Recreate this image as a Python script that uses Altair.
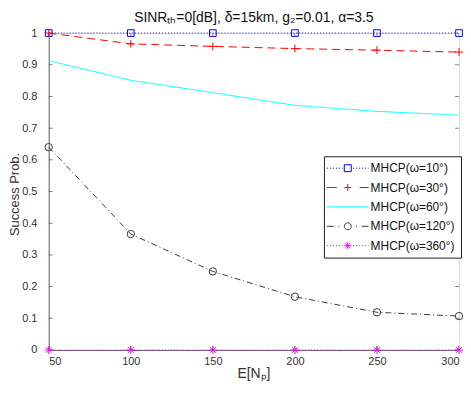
import altair as alt
import pandas as pd

# ---------------- data ----------------
x_vals = [50, 100, 150, 200, 250, 300]
series_names = ["MHCP(ω=10°)", "MHCP(ω=30°)", "MHCP(ω=60°)", "MHCP(ω=120°)", "MHCP(ω=360°)"]
w10 = [1.0, 1.0, 1.0, 1.0, 1.0, 1.0]
w30 = [1.0, 0.966, 0.958, 0.951, 0.946, 0.940]
w60 = [0.913, 0.851, 0.812, 0.772, 0.753, 0.741]
w120 = [0.640, 0.366, 0.248, 0.168, 0.119, 0.107]
w360 = [0.0, 0.0, 0.0, 0.0, 0.0, 0.0]
all_series = [w10, w30, w60, w120, w360]

x_ticks = [50, 100, 150, 200, 250, 300]
y_ticks = [0, 0.1, 0.2, 0.3, 0.4, 0.5, 0.6, 0.7, 0.8, 0.9, 1]

rows = []
for name, ys in zip(series_names, all_series):
    for xv, yv in zip(x_vals, ys):
        rows.append({"series": name, "x": xv, "y": yv})
df = pd.DataFrame(rows)

# ---------------- styles ----------------
colors = ["#0000ff", "#ff0000", "#00ffff", "#3a3a3a", "#ff00ff"]
dashes = [[1, 2], [8, 5], [1, 0], [6, 3, 1, 3], [1, 2]]

PLUS = "M-1,0H1M0,-1V1"
STAR = "M-1,0H1M0,-1V1M-0.7,-0.7L0.7,0.7M-0.7,0.7L0.7,-0.7"
marker_specs = [
    (series_names[0], "square", 45),
    (series_names[1], PLUS, 64),
    (series_names[3], "circle", 55),
    (series_names[4], STAR, 64),
]


def dotted(a, b, on=0.25, off=0.5):
    out, p = [], a
    while p < b:
        q = min(p + on, b)
        out.append(f"M{p:.3f},0H{q:.3f}")
        p = q + off
    return "".join(out)


m = 0.875
sq = f"M{-m},{-m}H{m}V{m}H{-m}Z"
pl = f"M{-m},0H{m}M0,{-m}V{m}"
ci = f"M{m},0A{m},{m} 0 1,1 {-m},0A{m},{m} 0 1,1 {m},0Z"
k = 0.62
st = pl + f"M{-k},{-k}L{k},{k}M{-k},{k}L{k},{-k}"
legend_paths = [
    dotted(-5.2, -1.3) + sq + dotted(1.3, 5.2),
    "M-5.25,0H-2.75" + pl + "M3,0H5.25",
    "M-5.25,0H5.25",
    "M-5.25,0H-3.5M-2.35,0H-2.1" + ci + "M2.1,0H2.35M3.5,0H5.25",
    dotted(-5.2, -1.3) + st + dotted(1.3, 5.2),
]

FONT = "Liberation Sans"
W, H = 413, 319

xscale = alt.Scale(domain=[50, 300], nice=False, zero=False)
yscale = alt.Scale(domain=[0, 1], nice=False)
cscale = alt.Scale(domain=series_names, range=colors)

xaxis = alt.Axis(values=x_ticks, title="E[Nₚ]", grid=False, tickSize=0,
                 labelPadding=6, labelFontSize=11, labelFont=FONT,
                 labelColor="#333333", domainColor="#666666",
                 titleFont=FONT, titleFontSize=14, titleFontWeight="normal",
                 titleColor="#333333", titleX=206, titleY=24,
                 titleBaseline="middle", titleAlign="center")
yaxis = alt.Axis(values=y_ticks, title="Success Prob.", grid=False, tickSize=0,
                 labelPadding=12, labelFontSize=11, labelFont=FONT,
                 labelColor="#333333", domainColor="#666666",
                 labelExpr="format(datum.value, '.1~f')",
                 titleFont=FONT, titleFontSize=13, titleFontWeight="normal",
                 titleColor="#333333", titleX=-34, titleY=162,
                 titleAngle=270, titleBaseline="middle", titleAlign="center")


def X(field):
    return alt.X(field, scale=xscale, axis=xaxis)


def Y(field):
    return alt.Y(field, scale=yscale, axis=yaxis)


base = alt.Chart(df)

lines = base.mark_line(strokeWidth=1).encode(
    x=X("x:Q"), y=Y("y:Q"),
    color=alt.Color("series:N", scale=cscale, legend=None),
    strokeDash=alt.StrokeDash("series:N",
                              scale=alt.Scale(domain=series_names, range=dashes),
                              legend=None),
    detail="series:N",
)

point_layers = []
for name, shape, size in marker_specs:
    point_layers.append(
        base.transform_filter(alt.datum.series == name)
        .mark_point(shape=shape, filled=False, size=size, strokeWidth=1, opacity=1)
        .encode(x=X("x:Q"), y=Y("y:Q"),
                color=alt.Color("series:N", scale=cscale, legend=None))
    )

leg = alt.Legend(title=None, orient="none", legendX=277, legendY=124,
                 direction="vertical", padding=6,
                 strokeColor="#222222", fillColor="white",
                 labelFont=FONT, labelFontSize=12, labelColor="#111111",
                 symbolSize=64, symbolStrokeWidth=1,
                 symbolOffset=12, labelOffset=17, rowPadding=7.5,
                 symbolOpacity=1)

legend_layer = base.mark_point(
    filled=False, size=64, strokeWidth=1, opacity=0
).encode(
    x=X("x:Q"), y=Y("y:Q"),
    color=alt.Color("series:N", scale=cscale, legend=leg),
    shape=alt.Shape("series:N", scale=alt.Scale(domain=series_names, range=legend_paths),
                    legend=leg),
)

# inward ticks on all four sides
ytick_df = pd.DataFrame({"v": y_ticks})
xtick_df = pd.DataFrame({"v": x_ticks})
tick_color = "#555555"
ticks_left = alt.Chart(ytick_df).mark_tick(orient="horizontal", size=8, thickness=1,
                                           clip=True, color=tick_color).encode(
    y=Y("v:Q"), x=alt.value(0))
ticks_right = alt.Chart(ytick_df).mark_tick(orient="horizontal", size=8, thickness=1,
                                            clip=True, color=tick_color).encode(
    y=Y("v:Q"), x=alt.value(W))
ticks_bottom = alt.Chart(xtick_df).mark_tick(orient="vertical", size=8, thickness=1,
                                             clip=True, color=tick_color).encode(
    x=X("v:Q"), y=alt.value(H))
ticks_top = alt.Chart(xtick_df).mark_tick(orient="vertical", size=8, thickness=1,
                                          clip=True, color=tick_color).encode(
    x=X("v:Q"), y=alt.value(0))

chart = alt.layer(
    lines, *point_layers, ticks_left, ticks_right, ticks_bottom, ticks_top, legend_layer
).resolve_legend(
    color="independent", shape="independent"
).properties(
    width=W, height=H,
    title=alt.TitleParams("SINRₜₕ=0[dB],  δ=15km, g₂=0.01,  α=3.5",
                          font=FONT, fontSize=14, fontWeight="normal",
                          color="#111111", offset=2, anchor="middle"),
    autosize=alt.AutoSizeParams(type="none"),
    padding={"left": 41, "top": 24, "right": 4, "bottom": 34},
).configure_view(
    stroke="#555555", strokeWidth=1
).configure(background="white")

chart.save("out.html", embed_options={"renderer": "svg", "actions": False})
